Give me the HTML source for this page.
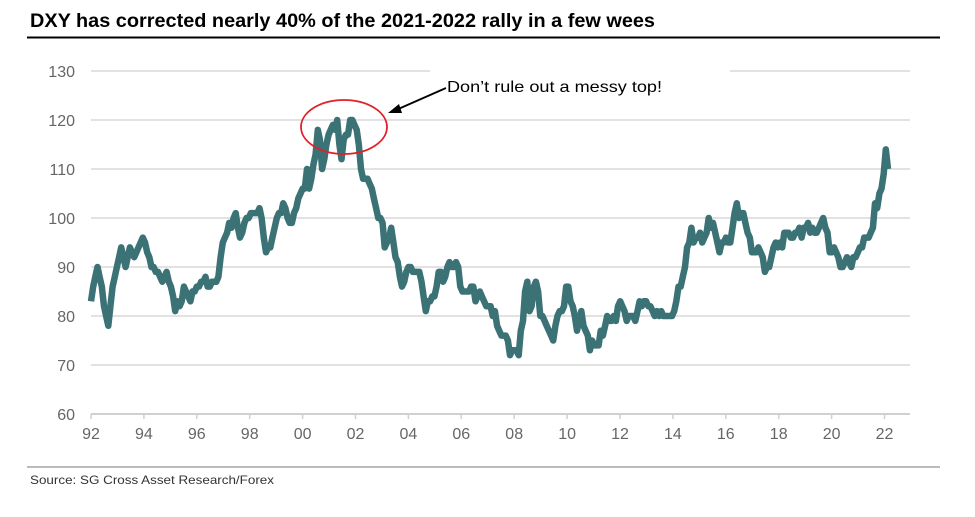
<!DOCTYPE html>
<html><head><meta charset="utf-8"><style>
body{margin:0;background:#fff;}
svg{display:block;font-family:"Liberation Sans",sans-serif;}
</style></head><body>
<svg width="975" height="517">
<text x="30" y="27" font-size="19" font-weight="bold" fill="#000" textLength="625" lengthAdjust="spacingAndGlyphs">DXY has corrected nearly 40% of the 2021-2022 rally in a few wees</text>
<line x1="27" y1="37.5" x2="940" y2="37.5" stroke="#000" stroke-width="2"/>
<g id="grid"></g>
<g id="yax"></g>
<g id="xax"></g>
<g id="series"></g>
<ellipse cx="344" cy="127" rx="43" ry="27" fill="none" stroke="#e0202a" stroke-width="1.8"/>
<line x1="446" y1="88" x2="396" y2="110" stroke="#000" stroke-width="1.8"/>
<polygon points="388,113 399,104 402,113" fill="#000"/>
<text x="447" y="92" font-size="16" fill="#000" textLength="215" lengthAdjust="spacingAndGlyphs">Don’t rule out a messy top!</text>
<line x1="27" y1="467" x2="940" y2="467" stroke="#777" stroke-width="1"/>
<text x="30" y="484" font-size="12" fill="#333" textLength="244" lengthAdjust="spacingAndGlyphs">Source: SG Cross Asset Research/Forex</text>
</svg>
<script>
const yTicks=[60,70,80,90,100,110,120,130];
const xTickLabels=["92","94","96","98","00","02","04","06","08","10","12","14","16","18","20","22"];
const xTickYears=[1992,1994,1996,1998,2000,2002,2004,2006,2008,2010,2012,2014,2016,2018,2020,2022];
const startYear=1992;
const dxy=[
83,86,88,90,88,86,82,80,78,82,86,88,
90,92,94,92,90,92,94,93,92,93,94,95,
96,95,93,92,90,90,89,89,88,87,88,89,
87,86,84,81,83,82,83,86,85,84,83,85,
85,86,86,87,87,88,86,86,87,87,87,88,
92,95,96,97,99,98,100,101,98,96,97,99,
100,100,101,101,101,101,102,100,96,93,94,94,
96,98,100,101,101,103,102,100,99,99,101,102,
104,105,106,106,110,106,108,111,113,118,116,110,
112,115,117,118,119,118,120,115,112,116,117,117,
120,120,119,118,115,110,108,108,108,107,106,104,
102,100,100,99,94,95,96,98,95,92,91,88,
86,87,89,90,90,89,89,89,89,87,84,81,
83,83,84,84,86,89,89,87,88,90,91,90,
90,91,90,86,85,85,85,85,86,86,83,84,
85,84,83,82,82,82,80,81,78,77,76,76,
76,75,72,73,73,73,72,77,79,85,87,81,
82,86,87,85,80,80,79,78,77,76,75,78,
80,81,81,82,86,86,83,82,80,77,79,81,
78,77,76,73,75,74,74,74,77,76,78,80,
79,79,80,79,82,83,82,81,79,80,80,80,
79,81,83,82,83,83,82,82,81,80,81,80,
81,80,80,80,80,80,81,83,86,86,88,90,
94,95,98,95,96,96,97,95,96,97,100,98,
99,97,95,93,95,95,96,95,95,98,101,103,
100,101,101,99,97,96,93,93,93,94,93,92,
89,90,90,92,94,95,94,95,94,97,97,97,
96,96,97,97,98,96,98,98,99,97,98,97,
97,98,99,100,98,97,93,93,94,93,92,90,
90,91,92,91,90,92,92,93,94,94,96,96,
96,97,98,103,102,105,106,109,114,110];
const NS="http://www.w3.org/2000/svg";
const x0=91,x1=888,yTop=71,yBot=414,vMin=60,vMax=130,pxPerYear=26.45;
const yS=v=>yBot-(v-vMin)/(vMax-vMin)*(yBot-yTop);
const xI=i=>x0+i/(dxy.length-1)*(x1-x0);
const xY=yr=>x0+(yr-startYear)*pxPerYear;
function mk(t,a,p){const e=document.createElementNS(NS,t);for(const k in a)e.setAttribute(k,a[k]);p.appendChild(e);return e;}
const grid=document.getElementById('grid'),yax=document.getElementById('yax'),xax=document.getElementById('xax'),ser=document.getElementById('series');
yTicks.forEach(v=>{
 const y=yS(v);
 if(v===130){
  let a=mk('line',{x1:91,x2:430,y1:y,y2:y,stroke:'#d9d9d9','stroke-width':1.5},grid);
  
  
  let b=mk('line',{x1:730,x2:910,y1:y,y2:y,stroke:'#d9d9d9','stroke-width':1.5},grid);
  
  
 } else {
  let g=mk('line',{x1:91,x2:910,y1:y,y2:y,stroke:v===60?'#d0d0d0':'#d9d9d9','stroke-width':v===60?2:1.5},grid);
  
  
 }
 let t=mk('text',{x:75,y:y+6,'text-anchor':'end','font-size':16,fill:'#666'},yax);
 t.textContent=v;
 
 
});
xTickYears.forEach((yr,i)=>{
 const x=xY(yr);
 let tk=mk('line',{x1:x,x2:x,y1:yBot,y2:yBot+5,stroke:'#d0d0d0','stroke-width':1.5},xax);
 
 
 let t=mk('text',{x:x,y:439,'text-anchor':'middle','font-size':16,fill:'#666'},xax);
 t.textContent=xTickLabels[i];
 
 
});
let d=dxy.map((v,i)=>(i?'L':'M')+xI(i).toFixed(1)+','+yS(v).toFixed(1)).join('');
let p=mk('path',{d:d,fill:'none',stroke:'#3b7276','stroke-width':6.5,'stroke-linejoin':'round'},ser);


</script>
</body></html>
